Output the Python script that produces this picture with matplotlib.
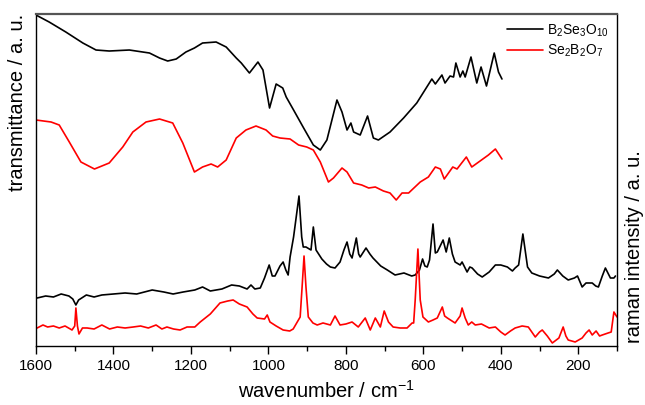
import matplotlib
matplotlib.use("Agg")
import matplotlib.pyplot as plt
from matplotlib.ticker import MultipleLocator

plt.rcParams['font.family'] = ['Liberation Sans', 'DejaVu Sans']
plt.rcParams['mathtext.fontset'] = 'custom'
plt.rcParams['mathtext.rm'] = 'Liberation Sans'

# IR spectra (transmittance, a.u., offset)
ir_b_wn = [1600, 1566, 1523, 1479, 1445, 1411, 1359, 1307, 1281, 1260, 1238, 1213, 1191,
           1170, 1135, 1109, 1083, 1070, 1049, 1027, 1014, 997, 980, 963, 954, 935, 909,
           884, 866, 849, 823, 810, 797, 787, 780, 763, 744, 729, 716, 686, 651, 617,
           591, 578, 569, 552, 544, 531, 522, 516, 505, 498, 492, 477, 462, 451, 437,
           417, 406, 397]
ir_b_val = [331, 324, 314, 303, 296, 295, 296, 293, 288, 285, 287, 294, 298,
            303, 304, 299, 288, 283, 273, 284, 276, 238, 262, 258, 249, 236, 218,
            201, 196, 206, 246, 234, 216, 223, 214, 211, 230, 208, 206, 214, 228, 243,
            259, 267, 262, 271, 263, 270, 269, 283, 269, 275, 269, 289, 263, 279, 260,
            293, 274, 267]

ir_r_wn = [1600, 1561, 1540, 1514, 1484, 1449, 1411, 1376, 1350, 1316, 1281, 1247, 1221,
           1191, 1170, 1148, 1131, 1109, 1083, 1058, 1032, 1006, 989, 970, 944, 922, 901,
           884, 866, 845, 832, 810, 797, 780, 759, 741, 724, 703, 686, 670, 655, 638,
           608, 587, 569, 556, 546, 524, 513, 489, 475, 432, 414, 397]
ir_r_val = [226, 224, 221, 204, 184, 177, 183, 199, 214, 224, 227, 223, 203,
            174, 179, 182, 179, 186, 208, 216, 220, 216, 210, 208, 207, 201, 199,
            196, 184, 164, 168, 178, 174, 163, 161, 158, 159, 155, 153, 146, 153, 153,
            164, 169, 179, 177, 167, 179, 177, 189, 179, 191, 197, 187]

# Raman spectra (intensity, a.u., offset)
ra_b_wn = [1597, 1575, 1555, 1535, 1515, 1505, 1497, 1490, 1470, 1450, 1430, 1400, 1370,
           1340, 1300, 1270, 1246, 1220, 1190, 1170, 1150, 1120, 1095, 1075, 1055, 1045,
           1035, 1021, 1010, 998, 990, 983, 970, 962, 955, 949, 944, 935, 921, 914, 910,
           903, 890, 884, 877, 862, 850, 840, 828, 815, 805, 797, 790, 784, 773, 767,
           763, 748, 738, 730, 710, 693, 673, 650, 630, 621, 610, 602, 596, 590, 584,
           575, 569, 564, 549, 541, 533, 525, 518, 505, 500, 487, 480, 474, 460, 448,
           430, 414, 400, 383, 370, 363, 354, 343, 331, 320, 300, 277, 262, 254, 240,
           226, 210, 202, 190, 180, 164, 155, 148, 138, 130, 117, 108, 104]
ra_b_val = [48, 50, 49, 52, 50, 47, 41, 46, 51, 49, 51, 52, 53,
            52, 56, 54, 52, 54, 56, 59, 55, 57, 61, 60, 57, 61,
            57, 58, 68, 81, 70, 70, 80, 84, 76, 71, 89, 109, 150, 109, 99,
            99, 96, 119, 96, 87, 82, 79, 78, 84, 96, 104, 92, 88, 108, 92,
            89, 98, 92, 88, 80, 76, 71, 73, 70, 71, 76, 87, 80, 79, 86,
            122, 93, 94, 106, 94, 108, 92, 84, 81, 84, 74, 79, 78, 72, 69,
            74, 81, 81, 79, 75, 78, 81, 112, 79, 73, 70, 68, 72, 76, 70,
            66, 68, 70, 59, 63, 63, 60, 59, 70, 78, 68, 68, 70]

ra_r_wn = [1597, 1582, 1570, 1555, 1540, 1525, 1507, 1500, 1497, 1493, 1489, 1480, 1468,
           1450, 1430, 1410, 1390, 1370, 1349, 1330, 1310, 1290, 1275, 1262, 1245, 1228,
           1210, 1190, 1176, 1150, 1125, 1105, 1091, 1075, 1055, 1040, 1029, 1010, 1003,
           996, 980, 962, 945, 936, 918, 913, 908, 903, 897, 885, 874, 859, 840, 828,
           815, 800, 784, 768, 750, 737, 724, 711, 701, 690, 678, 660, 642, 629, 625,
           621, 614, 608, 601, 587, 575, 564, 551, 545, 538, 518, 505, 500, 492, 484,
           475, 466, 450, 430, 414, 400, 389, 375, 363, 345, 329, 320, 311, 300, 293,
           280, 267, 250, 239, 232, 226, 208, 190, 180, 172, 164, 154, 145, 138, 123,
           115, 108, 100]
ra_r_val = [18, 21, 19, 20, 18, 20, 16, 20, 38, 20, 12, 18, 18,
            17, 21, 17, 19, 18, 19, 20, 18, 21, 17, 19, 17, 16,
            19, 19, 24, 32, 43, 45, 46, 42, 39, 32, 28, 27, 31,
            24, 20, 16, 15, 17, 29, 59, 90, 59, 29, 23, 21, 23, 21, 30,
            21, 22, 24, 19, 28, 16, 28, 19, 35, 24, 19, 18, 18, 23, 23,
            46, 97, 46, 29, 24, 26, 28, 39, 30, 28, 23, 30, 38, 28, 21,
            24, 21, 22, 18, 19, 14, 11, 15, 18, 20, 19, 14, 9, 14, 16,
            10, 3, 8, 19, 10, 6, 4, 8, 13, 16, 11, 15, 10, 11, 13,
            14, 34, 29]

labels = [r'B$\mathregular{_2}$Se$\mathregular{_3}$O$\mathregular{_{10}}$',
          r'Se$\mathregular{_2}$B$\mathregular{_2}$O$\mathregular{_7}$']

fig = plt.figure(figsize=(6.45, 4.05), dpi=100)
ax = fig.add_axes([0.0558, 0.1457, 0.9008, 0.8197])

style = dict(lw=1.2, solid_joinstyle='round', solid_capstyle='round')
ax.plot(ir_b_wn, ir_b_val, color='black', label=labels[0], **style)
ax.plot(ir_r_wn, ir_r_val, color='red', label=labels[1], **style)
ax.plot(ra_b_wn, ra_b_val, color='black', **style)
ax.plot(ra_r_wn, ra_r_val, color='red', **style)

ax.set_xlim(1600, 100)
ax.set_ylim(0, 332)
ax.set_yticks([])
ax.xaxis.set_major_locator(MultipleLocator(200))
ax.xaxis.set_minor_locator(MultipleLocator(100))
ax.tick_params(axis='x', which='major', direction='out', length=6, width=1, labelsize=11)
ax.tick_params(axis='x', which='minor', direction='out', length=3.5, width=1)
ax.set_xticks([1600, 1400, 1200, 1000, 800, 600, 400, 200])
for s in ['left', 'bottom', 'right']:
    ax.spines[s].set_linewidth(1)
ax.spines['top'].set_color('#555555')
ax.spines['top'].set_linewidth(1.6)

ax.legend(loc='upper right', frameon=False, fontsize=10, handlelength=2.6,
          handletextpad=0.3, borderaxespad=0.2, labelspacing=0.3)

fig.text(0.506, 0.035, r'wavenumber / cm$\mathregular{^{-1}}$', ha='center', va='center', fontsize=14.5)
fig.text(0.027, 0.748, 'transmittance / a. u.', rotation=90, ha='center', va='center', fontsize=14.5)
fig.text(0.983, 0.392, 'raman intensity / a. u.', rotation=90, ha='center', va='center', fontsize=14.5)

fig.savefig('out.png', dpi=100)
